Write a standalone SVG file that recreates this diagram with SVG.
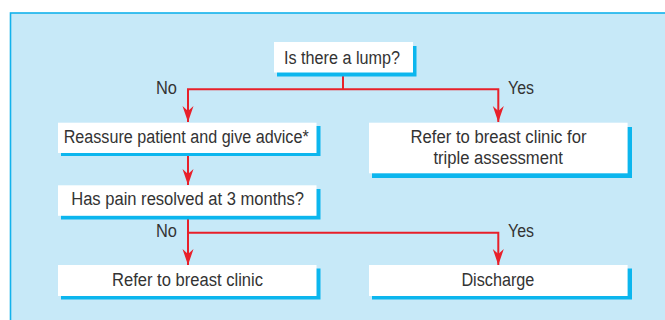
<svg xmlns="http://www.w3.org/2000/svg" width="665" height="320" viewBox="0 0 665 320">
  <defs>
    <style>
      .panel { fill: #c7e9f8; stroke: #13b2ec; stroke-width: 1.6; }
      .shadow { fill: #0cb6ee; }
      .box { fill: #ffffff; }
      .txt { font-family: "Liberation Sans", Arial, sans-serif; font-size: 18px; fill: #333333; }
      .mid { text-anchor: middle; }
      .end { text-anchor: end; }
      .link { fill: none; stroke: #e8202a; stroke-width: 2; }
    </style>
    <marker id="arrow" markerUnits="userSpaceOnUse" markerWidth="18" markerHeight="14" viewBox="-17 -7 18 14" refX="0" refY="0" orient="auto-start-reverse">
      <path d="M0,0 L-16,-5.5 L-11,0 L-16,5.5 Z" fill="#e8202a"/>
    </marker>
  </defs>

  <!-- background panel -->
  <rect class="panel" x="10.5" y="13" width="670" height="320"/>

  <!-- connectors -->
  <g id="connectors">
    <polyline class="link" points="343,72 343,89.3"/>
    <polyline class="link" points="188,122 188,89.3 498.3,89.3 498.3,122" marker-start="url(#arrow)" marker-end="url(#arrow)"/>
    <polyline class="link" points="188,153 188,185" marker-end="url(#arrow)"/>
    <polyline class="link" points="188,216 188,265" marker-end="url(#arrow)"/>
    <polyline class="link" points="188,232.7 498.3,232.7 498.3,265" marker-end="url(#arrow)"/>
    <text class="txt end" x="177" y="94" textLength="21" lengthAdjust="spacingAndGlyphs">No</text>
    <text class="txt" x="508" y="94" textLength="26" lengthAdjust="spacingAndGlyphs">Yes</text>
    <text class="txt end" x="177" y="236.7" textLength="21" lengthAdjust="spacingAndGlyphs">No</text>
    <text class="txt" x="508" y="236.7" textLength="26" lengthAdjust="spacingAndGlyphs">Yes</text>
  </g>

  <g id="lump">
    <rect class="shadow" x="277" y="46" width="139.5" height="30.5"/>
    <rect class="box" x="274" y="42" width="139" height="30.5"/>
    <text class="txt mid" x="342" y="63.5" textLength="116" lengthAdjust="spacingAndGlyphs">Is there a lump?</text>
  </g>

  <g id="reassure">
    <rect class="shadow" x="61" y="126" width="259.5" height="30"/>
    <rect class="box" x="58" y="122.7" width="258.5" height="30.3"/>
    <text class="txt mid" x="186.2" y="143.3" textLength="245" lengthAdjust="spacingAndGlyphs">Reassure patient and give advice*</text>
  </g>

  <g id="triple">
    <rect class="shadow" x="372" y="127" width="260" height="51"/>
    <rect class="box" x="369" y="122.7" width="258.6" height="50.6"/>
    <text class="txt mid" x="498.5" y="143.3" textLength="176" lengthAdjust="spacingAndGlyphs">Refer to breast clinic for</text>
    <text class="txt mid" x="498.1" y="164.3" textLength="129.4" lengthAdjust="spacingAndGlyphs">triple assessment</text>
  </g>

  <g id="resolved">
    <rect class="shadow" x="61" y="189" width="259.5" height="30.5"/>
    <rect class="box" x="58" y="185.3" width="258.5" height="30.5"/>
    <text class="txt mid" x="187.6" y="205.3" textLength="232.8" lengthAdjust="spacingAndGlyphs">Has pain resolved at 3 months?</text>
  </g>

  <g id="refer">
    <rect class="shadow" x="61" y="268.5" width="259.5" height="31"/>
    <rect class="box" x="58" y="265" width="258.5" height="31"/>
    <text class="txt mid" x="187.5" y="286" textLength="151" lengthAdjust="spacingAndGlyphs">Refer to breast clinic</text>
  </g>

  <g id="discharge">
    <rect class="shadow" x="372" y="268.5" width="260" height="31"/>
    <rect class="box" x="369" y="265" width="258.6" height="31"/>
    <text class="txt mid" x="497.9" y="286" textLength="73" lengthAdjust="spacingAndGlyphs">Discharge</text>
  </g>
</svg>
